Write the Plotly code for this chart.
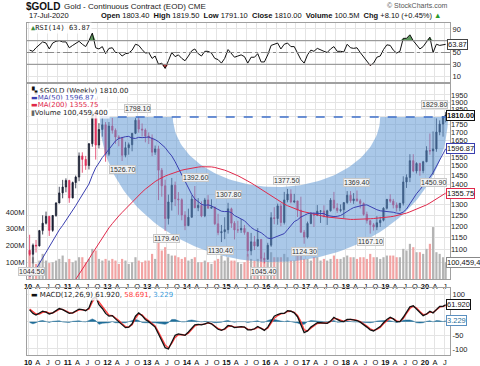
import numpy as np
import pandas as pd
import plotly.graph_objects as go

# ---------------- data (monthly readings of the weekly chart) ----------------
opens = [1097, 1081, 1118, 1115, 1180, 1213, 1244, 1181, 1248, 1307, 1357, 1387,
         1421, 1332, 1410, 1439, 1556, 1536, 1502, 1628, 1829, 1620, 1716, 1746,
         1566, 1738, 1711, 1669, 1664, 1560, 1604, 1622, 1692, 1776, 1719, 1713,
         1675, 1663, 1578, 1597, 1476, 1393, 1234, 1312, 1396, 1327, 1323, 1250,
         1202, 1240, 1326, 1284, 1296, 1246, 1322, 1282, 1287, 1210, 1171, 1175,
         1184, 1279, 1213, 1183, 1183, 1190, 1172, 1095, 1132, 1115, 1142, 1065,
         1061, 1118, 1238, 1234, 1293, 1216, 1322, 1351, 1312, 1317, 1273, 1173,
         1152, 1212, 1253, 1249, 1268, 1269, 1242, 1270, 1321, 1283, 1271, 1275,
         1309, 1345, 1318, 1327, 1318, 1305, 1253, 1224, 1206, 1196, 1215, 1226,
         1282, 1325, 1316, 1298, 1284, 1306, 1413, 1437, 1529, 1472, 1513, 1473,
         1523, 1587, 1585, 1597, 1700, 1751, 1800]
highs = [1162, 1125, 1140, 1183, 1249, 1266, 1245, 1250, 1311, 1388, 1424, 1432,
         1424, 1415, 1447, 1576, 1577, 1556, 1632, 1912, 1923, 1757, 1804, 1764,
         1764, 1791, 1723, 1680, 1670, 1640, 1635, 1693, 1790, 1798, 1755, 1723,
         1697, 1685, 1617, 1616, 1488, 1425, 1348, 1434, 1415, 1361, 1330, 1268,
         1280, 1345, 1392, 1331, 1315, 1332, 1346, 1325, 1290, 1256, 1205, 1240,
         1308, 1285, 1222, 1224, 1232, 1205, 1175, 1170, 1157, 1191, 1143, 1088,
         1128, 1263, 1287, 1304, 1306, 1362, 1377, 1375, 1352, 1318, 1338, 1183,
         1220, 1264, 1263, 1297, 1273, 1296, 1275, 1331, 1362, 1306, 1300, 1310,
         1366, 1366, 1356, 1369, 1327, 1310, 1266, 1227, 1214, 1245, 1242, 1287,
         1326, 1350, 1327, 1310, 1307, 1443, 1453, 1566, 1566, 1520, 1517, 1528,
         1613, 1691, 1704, 1788, 1775, 1799, 1830]
lows = [1075, 1045, 1088, 1113, 1163, 1207, 1157, 1175, 1242, 1306, 1330, 1360,
        1308, 1330, 1380, 1417, 1462, 1478, 1480, 1610, 1535, 1600, 1671, 1523,
        1555, 1690, 1627, 1613, 1527, 1548, 1563, 1583, 1687, 1696, 1672, 1636,
        1626, 1555, 1562, 1321, 1338, 1179, 1207, 1271, 1292, 1251, 1226, 1182,
        1202, 1238, 1282, 1268, 1240, 1240, 1280, 1281, 1204, 1160, 1131, 1143,
        1167, 1192, 1142, 1170, 1170, 1162, 1072, 1077, 1098, 1111, 1052, 1045,
        1060, 1111, 1208, 1206, 1199, 1207, 1310, 1305, 1306, 1241, 1171, 1124,
        1146, 1208, 1196, 1245, 1214, 1240, 1205, 1266, 1276, 1260, 1263, 1236,
        1303, 1308, 1303, 1313, 1281, 1247, 1211, 1167, 1180, 1182, 1196, 1221,
        1276, 1308, 1281, 1266, 1268, 1295, 1382, 1412, 1465, 1458, 1446, 1459,
        1520, 1563, 1451, 1580, 1680, 1671, 1762]
closes = [1081, 1118, 1115, 1180, 1213, 1244, 1181, 1248, 1307, 1357, 1387, 1421,
          1332, 1410, 1439, 1556, 1536, 1502, 1628, 1829, 1620, 1716, 1746, 1566,
          1738, 1711, 1669, 1664, 1560, 1604, 1622, 1692, 1776, 1719, 1713, 1675,
          1663, 1578, 1597, 1476, 1393, 1234, 1312, 1396, 1327, 1323, 1250, 1202,
          1240, 1326, 1284, 1296, 1246, 1322, 1282, 1287, 1210, 1171, 1175, 1184,
          1279, 1213, 1183, 1183, 1190, 1172, 1095, 1132, 1115, 1142, 1065, 1061,
          1118, 1238, 1234, 1293, 1216, 1322, 1351, 1312, 1317, 1273, 1173, 1152,
          1212, 1253, 1249, 1268, 1269, 1242, 1270, 1321, 1283, 1271, 1275, 1309,
          1345, 1318, 1327, 1318, 1305, 1253, 1224, 1206, 1196, 1215, 1226, 1282,
          1325, 1316, 1298, 1284, 1306, 1413, 1437, 1529, 1472, 1513, 1473, 1523,
          1587, 1585, 1597, 1700, 1751, 1800, 1810]
volume_m = [150, 130, 90, 110, 150, 110, 95, 100, 110, 120, 140, 100,
            120, 100, 110, 130, 130, 100, 120, 180, 170, 120, 110, 120,
            110, 120, 110, 90, 120, 110, 90, 100, 130, 110, 100, 110,
            110, 150, 120, 260, 170, 190, 150, 140, 140, 130, 120, 130,
            110, 120, 130, 100, 100, 110, 100, 90, 110, 120, 140, 110,
            130, 110, 110, 100, 90, 100, 150, 120, 110, 120, 130, 120,
            110, 160, 130, 130, 130, 150, 130, 110, 110, 140, 160, 120,
            120, 110, 130, 130, 110, 120, 110, 120, 140, 120, 120, 130,
            140, 130, 130, 120, 130, 130, 120, 150, 130, 130, 120, 130,
            140, 140, 140, 130, 130, 180, 170, 210, 190, 160, 160, 150,
            180, 210, 310, 160, 150, 130, 100.4594]
ma50 = [994, 1007, 1023, 1045, 1068, 1092, 1113, 1135, 1158, 1183, 1203, 1225,
        1245, 1268, 1294, 1321, 1346, 1371, 1402, 1448, 1489, 1516, 1547, 1569,
        1594, 1624, 1645, 1660, 1666, 1671, 1673, 1662, 1660, 1667, 1665, 1668,
        1669, 1660, 1653, 1640, 1625, 1605, 1579, 1556, 1523, 1487, 1450, 1412,
        1376, 1349, 1327, 1312, 1301, 1296, 1298, 1293, 1284, 1277, 1268, 1266,
        1267, 1261, 1248, 1240, 1232, 1224, 1209, 1194, 1184, 1179, 1171, 1160,
        1148, 1145, 1150, 1154, 1159, 1167, 1184, 1203, 1220, 1228, 1241, 1248,
        1256, 1259, 1258, 1260, 1258, 1257, 1248, 1244, 1243, 1244, 1248, 1257,
        1269, 1277, 1285, 1290, 1295, 1297, 1298, 1290, 1281, 1275, 1270, 1269,
        1266, 1265, 1263, 1259, 1257, 1264, 1278, 1303, 1329, 1353, 1373, 1393,
        1415, 1438, 1463, 1496, 1533, 1564, 1596.87]
ma200 = [860, 868, 876, 884, 893, 902, 911, 920, 929, 938, 945, 952,
         960, 968, 985, 1003, 1022, 1041, 1062, 1084, 1106, 1128, 1150, 1173,
         1192, 1211, 1229, 1246, 1262, 1279, 1295, 1311, 1328, 1345, 1361, 1376,
         1390, 1403, 1415, 1426, 1436, 1444, 1451, 1458, 1465, 1471, 1476, 1480,
         1484, 1488, 1491, 1493, 1495, 1496, 1496, 1494, 1491, 1487, 1482, 1476,
         1469, 1462, 1454, 1446, 1437, 1428, 1418, 1408, 1397, 1386, 1375, 1363,
         1351, 1340, 1330, 1320, 1311, 1302, 1294, 1287, 1280, 1274, 1269, 1265,
         1261, 1257, 1253, 1250, 1247, 1244, 1241, 1239, 1237, 1235, 1233, 1232,
         1231, 1230, 1230, 1230, 1230, 1231, 1232, 1233, 1234, 1235, 1236, 1238,
         1240, 1242, 1244, 1247, 1250, 1254, 1259, 1265, 1271, 1277, 1283, 1290,
         1298, 1307, 1316, 1326, 1336, 1346, 1355.75]
rsi14 = [54, 52, 58, 63, 68, 66, 56, 66, 69, 70, 68, 68,
         58, 62, 66, 69, 64, 60, 70, 83, 58, 56, 60, 48,
         57, 58, 50, 50, 44, 48, 49, 54, 64, 62, 55, 49,
         50, 40, 44, 30, 32, 23, 36, 50, 43, 46, 40, 36,
         44, 53, 56, 48, 44, 52, 52, 49, 40, 38, 32, 40,
         55, 48, 42, 44, 46, 43, 32, 42, 42, 48, 34, 34,
         46, 62, 64, 66, 56, 64, 66, 60, 60, 50, 38, 32,
         46, 54, 52, 57, 54, 52, 50, 56, 60, 52, 52, 51,
         64, 58, 57, 58, 50, 42, 36, 28, 32, 42, 44, 55,
         63, 62, 54, 49, 52, 74, 74, 80, 70, 62, 56, 60,
         68, 76, 50, 64, 62, 63, 63.87]
macd_line = [43, 30, 24, 30, 38, 35, 28, 32, 40, 48, 44, 38,
             30, 32, 38, 46, 44, 40, 50, 82, 92, 62, 48, 30,
             20, 22, 10, 0, -12, -22, -20, -8, 20, 32, 22, 8,
             0, -10, -20, -45, -68, -95, -100, -72, -50, -45, -48, -50,
             -38, -22, -12, -10, -12, -8, -4, -8, -20, -28, -32, -26,
             -14, -16, -22, -20, -18, -20, -30, -30, -26, -18, -26, -32,
             -20, 2, 20, 26, 30, 30, 40, 38, 32, 18, -10, -40,
             -34, -20, -12, -4, -4, -4, -6, 2, 16, 8, 2, 0,
             8, 8, 6, 4, -2, -10, -20, -30, -34, -26, -18, -4,
             8, 16, 10, 0, 0, 16, 36, 54, 58, 46, 32, 22,
             28, 38, 32, 46, 56, 56, 61.92]
macd_signal = [46, 38, 28, 28, 34, 36, 31, 31, 37, 45, 45, 40,
               33, 31, 36, 43, 44, 41, 46, 72, 88, 72, 54, 36,
               24, 22, 14, 4, -8, -18, -20, -12, 12, 28, 25, 12,
               3, -6, -16, -38, -60, -85, -96, -80, -58, -48, -47, -49,
               -42, -28, -16, -11, -11, -9, -5, -7, -16, -25, -30, -28,
               -18, -16, -20, -20, -19, -20, -27, -29, -27, -21, -24, -30,
               -24, -6, 12, 22, 28, 30, 37, 38, 34, 23, 0, -30,
               -34, -24, -15, -7, -5, -4, -5, 0, 12, 10, 4, 1,
               6, 8, 7, 5, 0, -7, -16, -26, -32, -28, -21, -8,
               4, 13, 11, 3, 0, 11, 30, 48, 56, 50, 37, 26,
               27, 35, 33, 42, 53, 56, 58.691]

price_ticks = [1050, 1100, 1150, 1200, 1250, 1300, 1350, 1400, 1450, 1500, 1550,
               1600, 1650, 1700, 1750, 1800, 1850, 1900, 1950]
price_tick_text = ["", "1100", "1150", "1200", "1250", "1300", "", "1400", "1450", "1500", "1550",
                   "", "1650", "1700", "1750", "", "1850", "1900", "1950"]
vol_ticks_m = [100, 200, 300, 400]
vol_tick_text = ["100M", "200M", "300M", "400M"]
rsi_ticks = [10, 30, 50, 70, 90]
rsi_tick_text = ["10", "30", "50", "", "90"]
macd_ticks = [-100, -50, 0, 50, 100]
macd_tick_text = ["-100", "-50", "", "", "100"]

peak_dates = ["2010-02-05", "2012-10-05", "2012-05-16", "2014-03-17", "2013-06-28",
              "2015-01-22", "2014-11-07", "2016-07-06", "2015-12-03", "2016-12-15",
              "2018-04-11", "2018-08-16", "2020-03-16", "2020-07-09"]
peak_prices = [1044.50, 1798.10, 1526.70, 1392.60, 1179.40, 1307.80, 1130.40,
               1377.50, 1045.40, 1124.30, 1369.40, 1167.10, 1450.90, 1829.80]
peak_side = [-1, 1, -1, 1, -1, 1, -1, 1, -1, -1, 1, -1, -1, 1]

rim_price = 1798.10
cup_outer = ("2011-10-22", "2020-07-30", 1050)
cup_inner = ("2013-08-25", "2018-11-15", 1387)

# ---------------- helpers ----------------
dates = pd.date_range("2010-01-01", periods=len(closes), freq="MS") + pd.Timedelta(days=14)
dates = dates[:-1].append(pd.DatetimeIndex(["2020-07-09"]))

W, H, L, R = 480, 366, 27, 30
def px(x):
    return (x - L) / (W - L - R)
def py(y):
    return 1 - y / H

grid = "#e4e4e4"
border = "#a0a0a0"
tickfont = dict(family="Liberation Sans", size=7.5, color="#222")
xr = ["2009-12-22", "2020-08-18"]
qt = pd.date_range("2010-01-01", "2020-07-01", freq="QS")
tt = [("<b>%02d</b>" % (d.year % 100)) if d.month == 1 else {4: "A", 7: "J", 10: "O"}[d.month] for d in qt]

def half_ellipse(d0, d1, bottom, n=90):
    t0, t1 = pd.Timestamp(d0).value, pd.Timestamp(d1).value
    c, a = (t0 + t1) / 2, (t1 - t0) / 2
    top = np.log10(rim_price)
    b = top - np.log10(bottom)
    th = np.linspace(np.pi, 2 * np.pi, n)
    return pd.to_datetime(c + a * np.cos(th)), 10 ** (top + b * np.sin(th))

ox, oy = half_ellipse(*cup_outer)
ix, iy = half_ellipse(*cup_inner)
cup_x = list(ox) + list(ix[::-1]) + [ox[0]]
cup_y = list(oy) + list(iy[::-1]) + [oy[0]]

o, c = np.array(opens), np.array(closes)
vol_colors = ["#b4b4b4" if cc >= oo else "#f2a3a3" for oo, cc in zip(o, c)]

fig = go.Figure()

# ---- RSI panel ----
rsi = np.array(rsi14, dtype=float)
fig.add_trace(go.Scatter(x=dates, y=[70] * len(rsi), mode="lines", line=dict(width=0), xaxis="x", yaxis="y", hoverinfo="skip"))
fig.add_trace(go.Scatter(x=dates, y=np.maximum(rsi, 70), mode="lines", line=dict(width=0), fill="tonexty",
                         fillcolor="#5f9a5f", xaxis="x", yaxis="y", hoverinfo="skip"))
fig.add_trace(go.Scatter(x=dates, y=[30] * len(rsi), mode="lines", line=dict(width=0), xaxis="x", yaxis="y", hoverinfo="skip"))
fig.add_trace(go.Scatter(x=dates, y=np.minimum(rsi, 30), mode="lines", line=dict(width=0), fill="tonexty",
                         fillcolor="#cc4444", xaxis="x", yaxis="y", hoverinfo="skip"))
fig.add_trace(go.Scatter(x=dates, y=rsi, mode="lines", line=dict(color="#111", width=1), xaxis="x", yaxis="y"))

# ---- price panel ----
fig.add_trace(go.Bar(x=dates, y=np.array(volume_m) * 1e6, marker=dict(color=vol_colors, line=dict(width=0)),
                     width=20 * 86400000, xaxis="x2", yaxis="y2"))
fig.add_trace(go.Scatter(x=cup_x, y=cup_y, mode="lines", fill="toself", fillcolor="rgba(92,150,210,0.52)",
                         line=dict(width=0), xaxis="x2", yaxis="y3", hoverinfo="skip"))
fig.add_trace(go.Scatter(x=[cup_outer[0], cup_outer[1]], y=[rim_price, rim_price], mode="lines",
                         line=dict(color="#3e6fc9", width=1.5, dash="dash"), xaxis="x2", yaxis="y3"))
fig.add_trace(go.Candlestick(x=dates, open=opens, high=highs, low=lows, close=closes, xaxis="x2", yaxis="y3",
                             increasing=dict(line=dict(color="#1b2033", width=0.8), fillcolor="#1b2033"),
                             decreasing=dict(line=dict(color="#e0305a", width=0.8), fillcolor="#e0305a"),
                             whiskerwidth=0))
fig.add_trace(go.Scatter(x=dates, y=ma200, mode="lines", line=dict(color="#e0284a", width=1), xaxis="x2", yaxis="y3"))
fig.add_trace(go.Scatter(x=dates, y=ma50, mode="lines", line=dict(color="#3a3fb0", width=1), xaxis="x2", yaxis="y3"))

# ---- MACD panel ----
hist = np.array(macd_line) - np.array(macd_signal)
fig.add_trace(go.Scatter(x=dates, y=hist, mode="lines", fill="tozeroy", fillcolor="#1f6d98",
                         line=dict(color="#1f6d98", width=0.5), xaxis="x3", yaxis="y4"))
fig.add_trace(go.Scatter(x=dates, y=macd_signal, mode="lines", line=dict(color="#ff3b3b", width=1.3), xaxis="x3", yaxis="y4"))
fig.add_trace(go.Scatter(x=dates, y=macd_line, mode="lines", line=dict(color="#111", width=1.3), xaxis="x3", yaxis="y4"))

xcommon = dict(type="date", range=xr, tickvals=qt, ticktext=tt, tickangle=0, showgrid=True, gridcolor=grid, gridwidth=1,
               showline=True, mirror=True, linecolor=border, ticks="", zeroline=False,
               tickfont=dict(family="Liberation Sans", size=7.5, color="#111"),
               rangeslider=dict(visible=False), fixedrange=True)
fig.update_layout(
    width=W, height=H, margin=dict(l=L, r=R, t=0, b=0), paper_bgcolor="white", plot_bgcolor="white",
    showlegend=False, font=dict(family="DejaVu Sans", size=7.5, color="#222"),
    xaxis=dict(xcommon, anchor="y", showticklabels=False),
    xaxis2=dict(xcommon, anchor="y2", showticklabels=True, matches="x"),
    xaxis3=dict(xcommon, anchor="y4", showticklabels=True, matches="x"),
    yaxis=dict(domain=[py(82), py(23)], range=[0, 100], side="right", tickvals=rsi_ticks, ticktext=rsi_tick_text,
               showgrid=True, gridcolor=grid, showline=True, mirror=True, linecolor=border, zeroline=False,
               tickfont=tickfont, anchor="x"),
    yaxis2=dict(domain=[py(279), py(84)], range=[0, 1164e6], side="left", tickvals=[v * 1e6 for v in vol_ticks_m],
                ticktext=vol_tick_text, showgrid=False, showline=True, mirror=True, linecolor=border, zeroline=False,
                tickfont=tickfont, anchor="x2"),
    yaxis3=dict(overlaying="y2", anchor="x2", side="right", type="log", range=[np.log10(986.4), np.log10(2031)],
                tickvals=price_ticks, ticktext=price_tick_text, showgrid=True, gridcolor=grid, zeroline=False,
                tickfont=tickfont),
    yaxis4=dict(domain=[py(355), py(288)], range=[-122, 123], side="right", tickvals=macd_ticks, ticktext=macd_tick_text,
                showgrid=True, gridcolor=grid, zeroline=False, showline=True, mirror=True, linecolor=border,
                tickfont=tickfont, anchor="x3"),
)

# RSI reference lines
fig.add_shape(type="line", xref="paper", yref="y", x0=0, x1=1, y0=70, y1=70, line=dict(color="#8a8a8a", width=1))
fig.add_shape(type="line", xref="paper", yref="y", x0=0, x1=1, y0=30, y1=30, line=dict(color="#8a8a8a", width=1))
fig.add_shape(type="line", xref="paper", yref="y", x0=0, x1=1, y0=50, y1=50, line=dict(color="#8a8a8a", width=1, dash="dashdot"))

ann = []
def A(x, y, text, **kw):
    d = dict(xref="paper", yref="paper", x=px(x), y=py(y), text=text, showarrow=False,
             xanchor="left", yanchor="middle", font=dict(family="DejaVu Sans", size=7.5, color="#222"))
    d.update(kw)
    ann.append(d)

# header
A(24, 6, "<b>$GOLD</b>", font=dict(family="Liberation Sans", size=10, color="#111"))
A(62, 6.5, "Gold - Continuous Contract (EOD) <span style='font-size:8px'>CME</span>", font=dict(family="Liberation Sans", size=8, color="#222"))
A(450, 5, "© StockCharts.com", xanchor="right", font=dict(family="Liberation Sans", size=7, color="#555"))
A(27, 15.5, "17-Jul-2020", font=dict(family="Liberation Sans", size=7.5, color="#111"))
A(444, 15.5, "<b>Open</b> 1803.40  <b>High</b> 1819.50  <b>Low</b> 1791.10  <b>Close</b> 1810.00  <b>Volume</b> 100.5M  "
     "<b>Chg</b> +8.10 (+0.45%) <span style='color:#2a9a2a'>▲</span>", xanchor="right",
  font=dict(family="Liberation Sans", size=7.5, color="#111"))

# RSI legend + tag
A(29, 28, "<span style='color:#3a8a3a'>▲</span>RSI(14) 63.87", font=dict(family="DejaVu Sans Mono", size=7, color="#222"),
  bgcolor="rgba(255,255,255,0.8)")
ann.append(dict(xref="paper", yref="y", x=px(447), y=63.87, text="63.87", showarrow=False, xanchor="left", yanchor="middle",
                font=dict(family="Liberation Sans", size=7.5, color="#111"), bgcolor="white", bordercolor="#444",
                borderwidth=1, borderpad=0))

# price legend
lf = dict(family="DejaVu Sans", size=7, color="#222")
A(29, 90, "<span style='color:#111'>▚</span> $GOLD (Weekly) 1810.00", bgcolor="rgba(255,255,255,0.85)", font=lf)
A(29, 97.7, "<span style='color:#3a3fb0'>▬</span><span style='color:#3a3fb0'>MA(50) 1596.87</span>", bgcolor="rgba(255,255,255,0.85)", font=lf)
A(29, 105.4, "<span style='color:#e0284a'>▬</span><span style='color:#e0284a'>MA(200) 1355.75</span>", bgcolor="rgba(255,255,255,0.85)", font=lf)
A(29, 113, "<span style='color:#666'>▮</span>Volume 100,459,400", bgcolor="rgba(255,255,255,0.85)", font=lf)

# price labels at highs / lows
for d, p, s in zip(peak_dates, peak_prices, peak_side):
    last = (d == peak_dates[-1])
    ann.append(dict(xref="x2", yref="y3", x=d, y=np.log10(p), text="%.2f" % p, showarrow=False,
                    yshift=8 * s, xanchor="right" if last else "center", xshift=2 if last else 0, yanchor="middle",
                    font=dict(family="Liberation Sans", size=7, color="#333"),
                    bgcolor="rgba(246,246,246,0.9)", bordercolor="#c8c8c8", borderwidth=1, borderpad=0))

# right-side value tags
def tag(yref, yval, text, col, tcol="#111"):
    ann.append(dict(xref="paper", yref=yref, x=px(446), y=yval, text=text, showarrow=False, xanchor="left",
                    yanchor="middle", font=dict(family="Liberation Sans", size=7.5, color=tcol), bgcolor="white",
                    bordercolor=col, borderwidth=1, borderpad=0))
tag("y3", np.log10(closes[-1]), "<b>%.2f</b>" % closes[-1], "#111")
tag("y3", np.log10(ma50[-1]), "%.2f" % ma50[-1], "#3a3fb0")
tag("y3", np.log10(ma200[-1]), "%.2f" % ma200[-1], "#e0284a")
tag("y2", volume_m[-1] * 1e6, "100,459,4", "#888")
tag("y4", macd_line[-1], "%.3f" % macd_line[-1], "#111")
tag("y4", hist[-1], "%.3f" % hist[-1], "#5a8fc0", "#1f6d98")

# MACD legend
A(29, 294.5, "<span style='color:#111'>▬</span> MACD(12,26,9) 61.920, <span style='color:#ff3b3b'>58.691</span>, "
             "<span style='color:#3a9ad9'>3.229</span>", bgcolor="rgba(255,255,255,0.85)", font=lf)

fig.update_layout(annotations=ann)
fig.write_html("out.html", config={"displayModeBar": False},
               post_script="document.body.style.margin='0px';document.body.style.overflow='hidden';")
